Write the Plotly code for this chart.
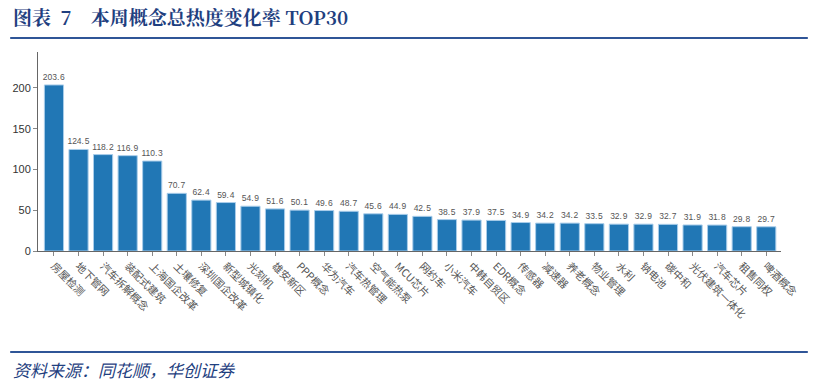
import plotly.graph_objects as go

categories = ["房屋检测", "地下管网", "汽车拆解概念", "装配式建筑", "上海国企改革", "土壤修复",
              "深圳国企改革", "新型城镇化", "光刻机", "雄安新区", "PPP概念", "华为汽车",
              "汽车热管理", "空气能热泵", "MCU芯片", "网约车", "小米汽车", "中韩自贸区",
              "EDR概念", "传感器", "减速器", "养老概念", "物业管理", "水利", "钠电池",
              "碳中和", "光伏建筑一体化", "汽车芯片", "租售同权", "啤酒概念"]
values = [203.6, 124.5, 118.2, 116.9, 110.3, 70.7, 62.4, 59.4, 54.9, 51.6, 50.1, 49.6,
          48.7, 45.6, 44.9, 42.5, 38.5, 37.9, 37.5, 34.9, 34.2, 34.2, 33.5, 32.9, 32.9,
          32.7, 31.9, 31.8, 29.8, 29.7]
value_labels = [f"{v:.1f}".replace(".", ".\u200a") for v in values]
y_ticks = [0, 50, 100, 150, 200]

L, R, T, B = 33, 781, 52, 251
W, H = 814, 383


def px(x):
    return (x - L) / (R - L)


def py(y):
    return (B - y) / (B - T)


fig = go.Figure(go.Bar(
    x=categories, y=values,
    marker=dict(color="#2177b5", line=dict(color="#a9cdea", width=1)),
    text=value_labels, textposition="outside", cliponaxis=False,
    constraintext="none",
    textfont=dict(size=8.5, color="#555555", family="Liberation Sans"),
    width=0.78,
))

fig.update_layout(
    width=W, height=H,
    margin=dict(l=L, r=W - R, t=T, b=H - B),
    paper_bgcolor="white", plot_bgcolor="white",
    showlegend=False,
    font=dict(family="Noto Sans CJK SC", color="#444444"),
    xaxis=dict(
        tickangle=45, tickfont=dict(size=10.5, color="#555555", family="Noto Sans CJK SC"),
        showline=True, linecolor="#666666", linewidth=1,
        ticks="outside", ticklen=4, tickcolor="#888888",
        showgrid=False, range=[-0.65, 29.6],
    ),
    yaxis=dict(
        range=[0, 244], tickvals=y_ticks,
        tickfont=dict(size=11, color="#333333", family="Liberation Sans"),
        showline=True, linecolor="#666666", linewidth=1,
        ticks="outside", ticklen=4, tickcolor="#888888",
        showgrid=False, zeroline=False,
    ),
    shapes=[
        dict(type="line", xref="paper", yref="paper", x0=px(5), x1=px(808), y0=py(38), y1=py(38),
             line=dict(color="#2f5597", width=2)),
        dict(type="line", xref="paper", yref="paper", x0=px(5), x1=px(808), y0=py(352), y1=py(352),
             line=dict(color="#2f5597", width=2)),
    ],
    annotations=[
        dict(text="<b>图表  7    本周概念总热度变化率 TOP30</b>", xref="paper", yref="paper",
             x=px(6), y=py(16), xanchor="left", yanchor="middle", showarrow=False,
             font=dict(size=19, color="#1f3f7f", family="Noto Serif CJK SC, Noto Sans CJK SC")),
        dict(text="资料来源：同花顺，华创证券", xref="paper", yref="paper",
             x=px(6), y=py(369), xanchor="left", yanchor="middle", showarrow=False,
             font=dict(size=17, color="#1f3f7f", family="Noto Sans CJK SC", style="italic")),
    ],
)

fig.write_html("out.html")
